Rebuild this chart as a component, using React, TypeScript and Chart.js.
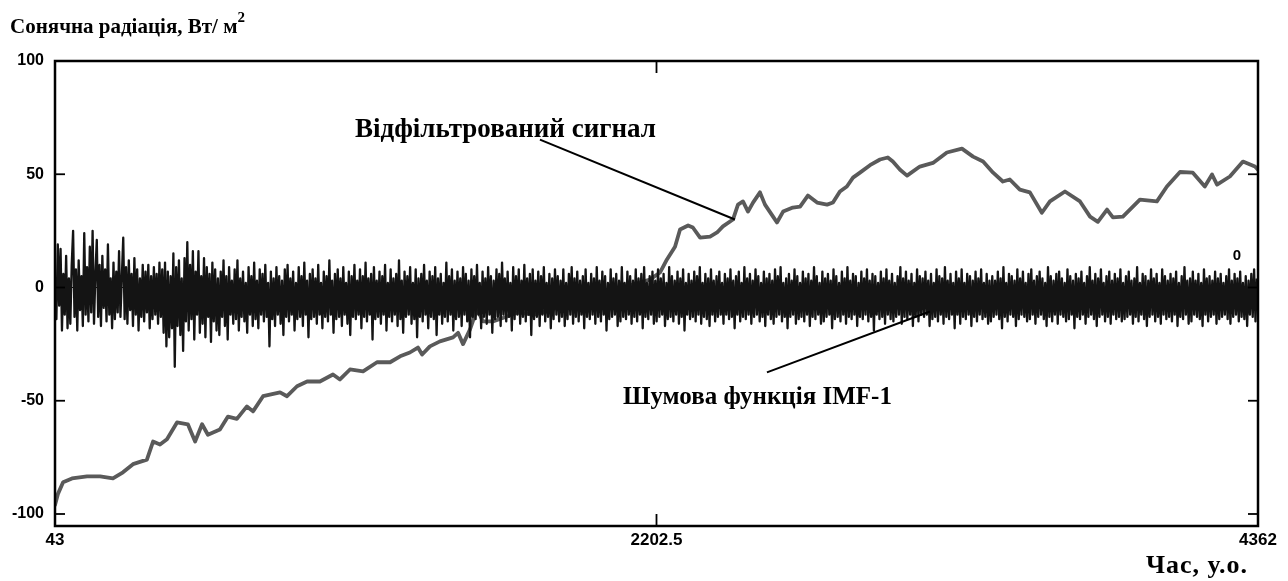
import { useEffect, useRef } from "react";
import { Chart, registerables } from "chart.js";

Chart.register(...registerables);

// ---- axis ticks ----
const yTicks = [-100, -50, 0, 50, 100];
const xTicks = [43, 2202.5, 4362];
const xTickLabels = ["43", "2202.5", "4362"];

// ---- filtered signal ----
const filteredX = [
  43, 54, 72, 104, 158, 205, 251, 287, 323, 373,
  395, 420, 445, 481, 520, 546, 571, 592, 635, 664,
  696, 732, 754, 790, 851, 876, 912, 948, 994, 1041,
  1066, 1102, 1149, 1199, 1246, 1282, 1317, 1346, 1361, 1389,
  1425, 1472, 1490, 1508, 1533, 1558, 1580, 1615, 1666, 1702,
  1759, 1795, 1881, 2000, 2107, 2179, 2215, 2240, 2269, 2287,
  2316, 2333, 2359, 2395, 2420, 2441, 2477, 2495, 2513, 2531,
  2549, 2574, 2592, 2621, 2635, 2657, 2692, 2718, 2746, 2779,
  2815, 2836, 2861, 2886, 2908, 2933, 2969, 3005, 3033, 3051,
  3077, 3102, 3148, 3195, 3245, 3299, 3339, 3375, 3411, 3446,
  3471, 3507, 3543, 3586, 3615, 3669, 3723, 3759, 3787, 3820,
  3841, 3877, 3938, 3999, 4035, 4082, 4128, 4171, 4197, 4215,
  4261, 4308, 4351, 4362,
];
const filteredY = [
  -96, -91, -86, -84.3, -83.4, -83.4, -84.3, -81.6, -78, -76,
  -68, -69.3, -67, -59.6, -60.4, -68, -60.4, -65, -62.7, -57,
  -58, -52.5, -54.7, -48, -46.3, -48, -43.6, -41.5, -41.5, -38.4,
  -40.6, -36.2, -37, -33, -33, -30.4, -28.7, -26.5, -29.6, -26,
  -23.8, -22, -20, -25, -18.5, -9.7, -15, -15, -12.8, -11,
  -12, -11, -7.5, -2, 1, 3.5, 6.6, 12.4, 18, 25.6,
  27.4, 26.5, 22, 22.5, 24.3, 27, 30, 36.6, 38, 33.5,
  37.5, 42, 36.6, 31.3, 28.7, 33.5, 35.3, 35.7, 40.6, 37.5,
  36.6, 37.5, 42.4, 44.6, 48.5, 50.7, 54, 56.5, 57.4, 55.6,
  52, 49.4, 53.4, 55, 59.6, 61.3, 57.8, 55.6, 50.7, 46.8,
  47.7, 43.2, 42, 33, 38, 42.4, 38, 31.3, 29, 34.4,
  31, 31.3, 38.8, 38, 44.6, 51, 50.7, 44.6, 49.9, 45.4,
  49, 55.6, 53.4, 52,
];

// ---- noise function IMF-1 (sampled every 5 time units from 43) ----
const noiseStart = 43;
const noiseStep = 5;
const noiseEarly = [
  3, -14, 19, -8, 17, -19, 6, -12, 14, -18, 4, -16, 10, 25, -13, 8, -19, 12, -10, 5, -17, 24, -12, 9,
  -15, 18, -11, 25, -16, 6, 21, -13, 10, -17, 14, -9, 8, -15, 19, -12, 4, -18, 11, -14, 7, -11, 16, -13,
  5, 22, -14, 9, -16, 12, -10, 6, -17, 13, -12, 8, -19, 4, -13, 10, -15, 7, -11, 10, -18, 5, -14, 9,
  -12, 6, -16, 11, -13, 8, -20, 11, -26, 7, -22, 5, -18, 15, -35, 9, -17, 12, -21, 4, -28, 13, -15, 20,
  -19, 10, -14, 16, -23, 7, -12, 16, -20, 5, -16, 13, -22, 9, -13, 6, -24, 11, -15, 8, -19, 4, -21, 7,
];
const noiseMid = [
  -13, 12, -17, 5, -23, 9, -12, 3, -16, 8, -14, 12, -19, 4, -13, 7, -15, 2, -20, 9, -12, 5, -17, 11,
  -14, 3, -18, 8, -12, 6, -15, 10, -13, 2, -26, 7, -14, 4, -17, 9, -12, 5, -16, 3, -21, 8, -13, 10,
  -15, 4, -12, 7, -19, 2, -14, 9, -13, 5, -17, 11, -12, 3, -22, 6, -14, 8, -13, 4, -16, 10, -12, 2,
  -18, 7, -13, 5, -15, 12, -12, 3, -20, 6, -14, 8, -13, 4, -17, 9, -12, 2, -16, 7, -21, 5, -13, 10,
  -14, 3, -12, 8, -18, 5, -13, 11, -15, 4, -12, 6, -23, 9, -14, 3, -13, 7, -16, 5, -12, 10, -19, 2,
  -13, 8, -15, 4, -12, 6, -17, 12, -14, 3, -20, 7, -13, 5, -12, 9, -16, 2, -14, 8, -22, 4, -13, 6,
  -15, 10, -12, 3, -18, 7, -13, 5, -14, 9, -21, 4, -12, 6, -16, 2, -13, 11, -15, 5, -12, 8, -19, 3,
  -14, 7, -13, 4, -17, 9, -12, 6, -15, 3, -22, 8, -13, 5, -14, 10, -12, 2, -18, 7, -13, 4, -16, 9,
  -12, 5, -20, 3, -14, 8, -13, 6, -17, 11, -12, 4, -15, 7, -13, 2, -19, 9, -14, 5, -12, 8, -16, 3,
  -13, 10, -15, 4, -12, 6, -21, 8, -14, 3, -13, 7, -17, 5, -12, 9, -15, 2, -13, 6, -18, 4, -14, 8,
];
const noiseLate = [
  -12, 5, -15, 3, -13, 8, -17, 2, -14, 6, -12, 9, -16, 4, -13, 7, -15, 3, -12, 5, -18, 8, -13, 2,
  -14, 6, -12, 4, -16, 9, -13, 3, -15, 7, -12, 5, -19, 2, -14, 8, -13, 4, -12, 6, -17, 3, -15, 9,
  -13, 2, -14, 7, -12, 5, -16, 3, -13, 8, -15, 4, -12, 6, -18, 9, -13, 2, -14, 5, -12, 7, -16, 3,
  -15, 8, -13, 4, -12, 6, -17, 2, -14, 9, -13, 5, -15, 3, -12, 7, -16, 4, -13, 8, -19, 2, -12, 6,
  -14, 3, -13, 7, -15, 5, -12, 9, -16, 2, -13, 6, -14, 4, -17, 8, -12, 3, -15, 5, -13, 7, -12, 2,
  -16, 6, -12, 4, -14, 8, -13, 3, -18, 5, -12, 7, -15, 2, -13, 9, -14, 4, -12, 6, -16, 3, -13, 8,
  -12, 5, -15, 2, -13, 7, -17, 4, -12, 6, -14, 3, -16, 8, -13, 5, -12, 9, -15, 2, -13, 4, -18, 6,
  -13, 3, -12, 8, -16, 5, -14, 2, -13, 7, -15, 4, -12, 6, -17, 3, -13, 9, -14, 5, -12, 2, -16, 7,
  -15, 4, -13, 6, -12, 3, -18, 8, -14, 5, -13, 2, -15, 7, -12, 4, -16, 9, -13, 3, -14, 6, -12, 5,
  -17, 2, -13, 7, -14, 4, -12, 8, -15, 3, -13, 6, -19, 5, -12, 2, -14, 7, -13, 4, -16, 8, -12, 3,
  -14, 6, -15, 2, -13, 5, -12, 9, -16, 4, -13, 7, -14, 3, -12, 6, -17, 2, -13, 8, -15, 5, -12, 4,
  -13, 7, -12, 3, -17, 6, -14, 2, -13, 8, -15, 5, -12, 4, -16, 9, -13, 3, -14, 6, -12, 2, -18, 7,
  -12, 4, -16, 8, -13, 2, -14, 6, -12, 5, -17, 3, -13, 7, -15, 4, -12, 8, -14, 2, -13, 6, -16, 3,
  -15, 5, -13, 3, -12, 7, -14, 4, -18, 9, -13, 2, -15, 6, -12, 5, -13, 3, -17, 8, -14, 4, -12, 7,
  -13, 2, -15, 6, -14, 8, -12, 3, -16, 5, -13, 7, -12, 4, -14, 2, -17, 9, -13, 5, -15, 3, -12, 6,
  -16, 7, -12, 4, -13, 2, -15, 8, -14, 5, -12, 3, -18, 6, -13, 4, -14, 7, -12, 2, -16, 5, -13, 9,
  -12, 3, -14, 6, -17, 4, -13, 8, -12, 2, -15, 5, -13, 7, -16, 3, -12, 6, -14, 4, -13, 8, -15, 2,
  -14, 5, -13, 7, -12, 3, -16, 4, -13, 9, -15, 2, -12, 6, -14, 5, -17, 3, -13, 8, -12, 4, -15, 6,
  -13, 2, -16, 8, -12, 5, -14, 3, -13, 6, -15, 4, -12, 7, -17, 2, -13, 5, -14, 9, -12, 3, -16, 4,
  -15, 7, -12, 3, -13, 6, -14, 2, -17, 8, -12, 4, -15, 5, -13, 3, -12, 7, -16, 4, -14, 6, -13, 2,
  -12, 5, -14, 8, -16, 3, -13, 6, -12, 4, -15, 7, -13, 2, -14, 5, -17, 3, -12, 6, -13, 8, -15, 4,
];
const noiseValues = [...noiseEarly, ...noiseMid, ...noiseLate];

// ---- texts ----
const titleText = "Сонячна радіація, Вт/ м";
const titleSup = "2";
const xTitleText = "Час, у.о.";
const filteredLabel = "Відфільтрований сигнал";
const noiseLabel = "Шумова функція IMF-1";

// annotation anchors in data units
const filteredLabelAt = { x: 1120, y: 66.6 };
const filteredPointer = { x1: 1784, y1: 65.3, x2: 2484, y2: 30 };
const noiseLabelAt = { x: 2082, y: -51.6 };
const noisePointer = { x1: 2599, y1: -37.5, x2: 3184, y2: -10.6 };
const zeroMarkAt = { x: 4286, y: 14.1 };

const SERIF = "'Liberation Serif', 'Times New Roman', serif";
const SANS = "'Liberation Sans Narrow', 'Liberation Sans', Arial, sans-serif";

const overlayPlugin = {
  id: "overlay",
  afterDraw(chart: any) {
    const { ctx, chartArea: a } = chart;
    const xs = chart.scales.x;
    const ys = chart.scales.y;
    const px = (v: number) => xs.getPixelForValue(v);
    const py = (v: number) => ys.getPixelForValue(v);
    const seg = (x1: number, y1: number, x2: number, y2: number) => {
      ctx.beginPath();
      ctx.moveTo(x1, y1);
      ctx.lineTo(x2, y2);
      ctx.stroke();
    };
    ctx.save();
    ctx.strokeStyle = "#000";
    ctx.fillStyle = "#000";
    // frame
    ctx.lineWidth = 2.5;
    ctx.strokeRect(a.left, a.top, a.right - a.left, a.bottom - a.top);
    // inward ticks
    ctx.lineWidth = 1.8;
    for (const v of yTicks) {
      const yy = py(v);
      seg(a.left, yy, a.left + 10, yy);
      seg(a.right, yy, a.right - 10, yy);
    }
    for (const v of xTicks) {
      const xx = px(v);
      seg(xx, a.bottom, xx, a.bottom - 12);
      seg(xx, a.top, xx, a.top + 12);
    }
    // pointer lines
    ctx.lineWidth = 2;
    seg(px(filteredPointer.x1), py(filteredPointer.y1), px(filteredPointer.x2), py(filteredPointer.y2));
    seg(px(noisePointer.x1), py(noisePointer.y1), px(noisePointer.x2), py(noisePointer.y2));
    // annotation labels
    ctx.textBaseline = "alphabetic";
    ctx.textAlign = "left";
    ctx.font = `bold 27px ${SERIF}`;
    ctx.fillText(filteredLabel, px(filteredLabelAt.x), py(filteredLabelAt.y));
    ctx.font = `bold 25px ${SERIF}`;
    ctx.fillText(noiseLabel, px(noiseLabelAt.x), py(noiseLabelAt.y));
    // stray zero mark
    ctx.font = `bold 15px ${SANS}`;
    ctx.textAlign = "center";
    ctx.textBaseline = "middle";
    ctx.fillText("0", px(zeroMarkAt.x), py(zeroMarkAt.y));
    // title
    ctx.textAlign = "left";
    ctx.textBaseline = "alphabetic";
    ctx.font = `bold 21px ${SERIF}`;
    ctx.fillText(titleText, 10, 33);
    const w = ctx.measureText(titleText).width;
    ctx.font = `bold 15px ${SERIF}`;
    ctx.fillText(titleSup, 10 + w, 22);
    // x axis title
    ctx.font = `bold 26px ${SERIF}`;
    ctx.textAlign = "right";
    (ctx as any).letterSpacing = "1px";
    ctx.fillText(xTitleText, 1248, 573);
    ctx.restore();
  },
};

export default function App() {
  const ref = useRef<HTMLCanvasElement | null>(null);
  useEffect(() => {
    if (!ref.current) return;
    const filteredData = filteredX.map((x, i) => ({ x, y: filteredY[i] }));
    const noiseData = noiseValues.map((y, i) => ({ x: noiseStart + i * noiseStep, y }));
    const zeroData = [
      { x: xTicks[0], y: 0 },
      { x: xTicks[xTicks.length - 1], y: 0 },
    ];
    const chart = new Chart(ref.current, {
      type: "line",
      data: {
        datasets: [
          {
            label: noiseLabel,
            data: noiseData,
            borderColor: "#141414",
            borderWidth: 2.3,
            pointRadius: 0,
            tension: 0,
            borderJoinStyle: "round",
          },
          {
            label: filteredLabel,
            data: filteredData,
            borderColor: "#5a5a5a",
            borderWidth: 3.8,
            pointRadius: 0,
            tension: 0,
            borderJoinStyle: "round",
            borderCapStyle: "round",
          },
          {
            label: "0",
            data: zeroData,
            borderColor: "#000",
            borderWidth: 1,
            borderDash: [4, 4],
            pointRadius: 0,
          },
        ],
      },
      options: {
        animation: false,
        responsive: false,
        devicePixelRatio: 1,
        layout: { padding: { left: 0, top: 61, right: 30, bottom: 0 } },
        plugins: { legend: { display: false }, tooltip: { enabled: false } },
        scales: {
          x: {
            type: "linear",
            min: xTicks[0],
            max: xTicks[xTicks.length - 1],
            grid: { display: false, drawTicks: false },
            border: { display: false },
            afterBuildTicks: (scale: any) => {
              scale.ticks = xTicks.map((value) => ({ value }));
            },
            afterFit: (scale: any) => {
              scale.height = 55;
            },
            ticks: {
              autoSkip: false,
              maxRotation: 0,
              color: "#000",
              padding: 4,
              font: { family: SANS, size: 17, weight: "bold" },
              callback: (v: any) => {
                const i = xTicks.indexOf(Number(v));
                return i >= 0 ? xTickLabels[i] : "";
              },
            },
          },
          y: {
            type: "linear",
            min: -105.3,
            max: 100,
            grid: { display: false, drawTicks: false },
            border: { display: false },
            afterBuildTicks: (scale: any) => {
              scale.ticks = yTicks.map((value) => ({ value }));
            },
            afterFit: (scale: any) => {
              scale.width = 55;
            },
            ticks: {
              color: "#000",
              padding: 11,
              font: { family: SANS, size: 16, weight: "bold" },
            },
          },
        },
      },
      plugins: [overlayPlugin],
    } as any);
    return () => chart.destroy();
  }, []);
  return (
    <div style={{ position: "fixed", left: 0, top: 0, width: 1288, height: 581, background: "#fff" }}>
      <canvas ref={ref} width={1288} height={581} style={{ width: 1288, height: 581, display: "block" }} />
    </div>
  );
}
